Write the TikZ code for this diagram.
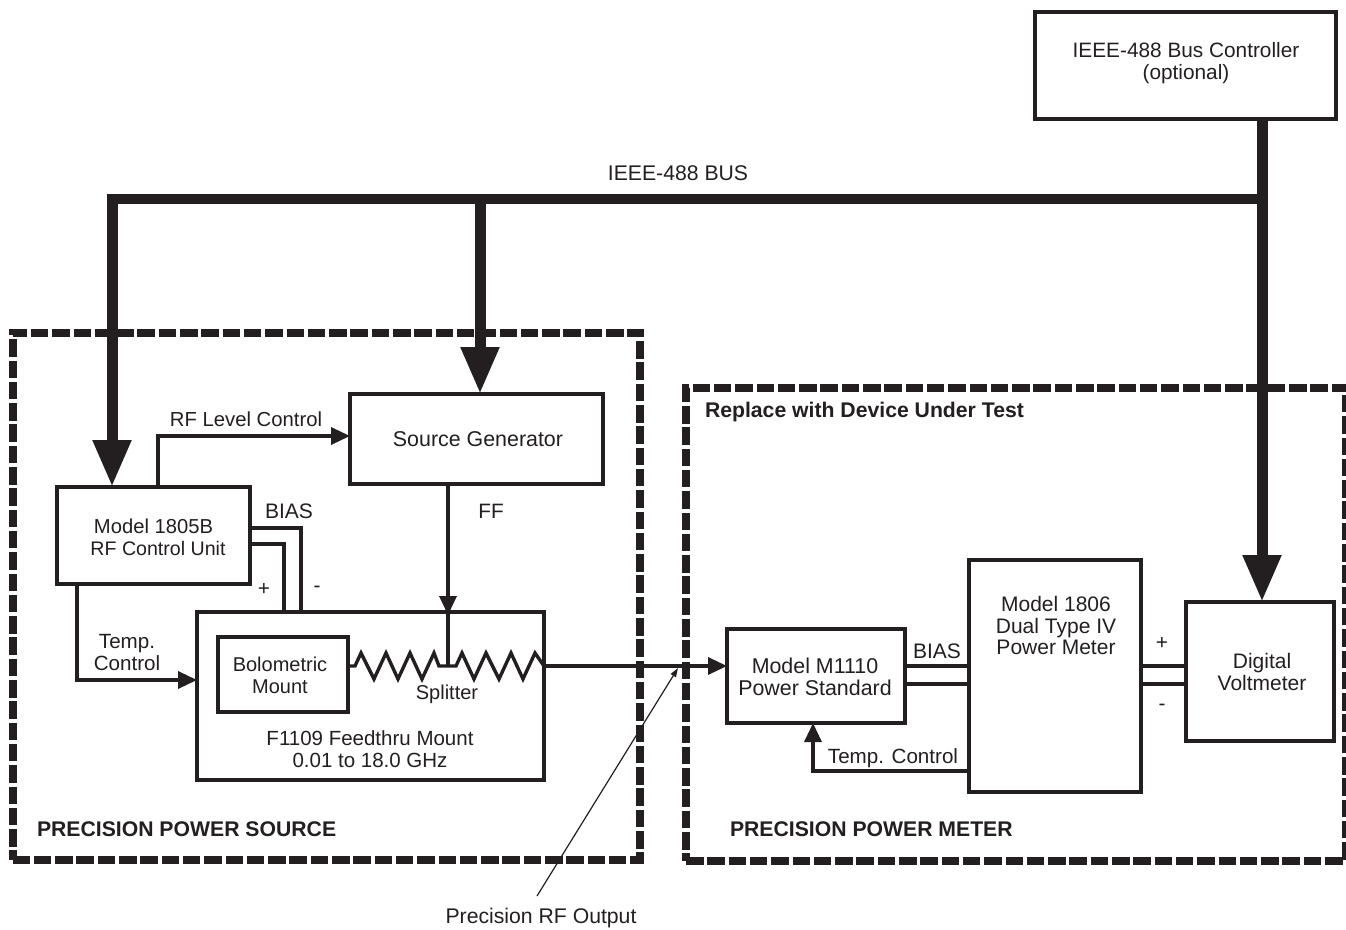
\documentclass[tikz,border=0pt]{standalone}
\usepackage{fontspec}
\setmainfont{Liberation Sans}
\usetikzlibrary{arrows.meta}
\tikzset{
  x=1pt,y=-1pt,
  box/.style={draw=ink,line width=3.4pt,inner sep=0pt,outer sep=0pt,fill=none},
  frame/.style={draw=ink,line width=8pt,inner sep=0pt,outer sep=0pt,dash pattern=on 17.5pt off 3.8pt},
  fs/.style={font=\fontsize{#1}{21.8}\selectfont},
  lbl/.style={inner sep=0pt,outer sep=0pt,align=center,text=ink,fs=20.8},
  head/.style={inner sep=0pt,outer sep=0pt,anchor=west,text=ink,font=\fontsize{21.2}{21.8}\selectfont\bfseries},
  wire/.style={draw=ink,line width=3.4pt,line cap=butt,line join=miter},
  sig/.style={wire,-{Triangle[length=19pt,width=17pt]}},
  bus/.style={draw=ink,line width=11pt,line cap=butt},
  busarrow/.style={bus,-{Triangle[length=47pt,width=36pt]}},
  leader/.style={draw=ink,line width=1.2pt,-{Triangle[length=9pt,width=6pt]}}
}
\definecolor{ink}{HTML}{231F20}
\begin{document}
\begin{tikzpicture}
\useasboundingbox (0,0) rectangle (1346,929);
% frames
\node[frame,minimum width=627.5pt,minimum height=527.5pt] (srcframe) at (326.25,596.25) {};
\node[frame,minimum width=659.5pt,minimum height=473pt] (mtrframe) at (1015.75,624) {};
% boxes
\node[box,minimum width=301pt,minimum height=107pt] (ctrl) at (1185.5,65.5) {};
\node[box,minimum width=253pt,minimum height=90pt] (srcgen) at (476.5,439) {};
\node[box,minimum width=193pt,minimum height=97pt] (rfunit) at (153.5,535.5) {};
\node[box,minimum width=347pt,minimum height=168pt] (feed) at (370.5,696) {};
\node[box,minimum width=130pt,minimum height=75pt] (bolo) at (283,674.5) {};
\node[box,minimum width=178pt,minimum height=94pt] (m1110) at (816,676) {};
\node[box,minimum width=172pt,minimum height=232pt] (m1806) at (1055,676) {};
\node[box,minimum width=148pt,minimum height=139pt] (dvm) at (1260,671.5) {};
% box texts
\node[lbl] (tctrl) at (1186,63.5) {IEEE-488 Bus Controller\\(optional)};
\node[lbl,fs=21.4] (tsrc) at (478,439) {Source Generator};
\node[lbl,fs=20.2] (trf1) at (153.5,526.5) {Model 1805B};
\node[lbl,fs=19.6] (trf2) at (158,548.5) {RF Control Unit};
\node[lbl,fs=20.5] (tfeed) at (370,749.5) {F1109 Feedthru Mount\\0.01 to 18.0 GHz};
\node[lbl,fs=20] (tbolo) at (280,675) {Bolometric\\Mount};
\node[lbl,fs=21.4] (tm1110) at (815,676.5) {Model M1110\\Power Standard};
\node[lbl,fs=21] (tm1806) at (1056,625.5) {Model 1806\\Dual Type IV\\Power Meter};
\node[lbl,fs=21] (tdvm) at (1262,672) {Digital\\Voltmeter};
% bus
\coordinate (bl) at (112,199);
\coordinate (bm) at (480,199);
\coordinate (br) at (1262,199);
\draw[bus] (ctrl.south -| br) -- (br);
\draw[bus,line width=10.5pt] ([xshift=5.5pt]br) -- ([xshift=-5.5pt]bl);
\draw[busarrow] ([yshift=-5.25pt]bl) -- (rfunit.north -| bl);
\draw[busarrow] (bm) -- (srcgen.north -| bm);
\draw[busarrow] (br) -- (dvm.north -| br);
\node[lbl,fs=21.2] (tbus) at (678,173.5) {IEEE-488 BUS};
% left-hand signals
\coordinate (rfl) at (158,436);
\draw[sig] (rfunit.north -| rfl) -- (rfl) -- (srcgen.west |- rfl);
\node[lbl,fs=20.3] (trfl) at (246,419.5) {RF Level Control};
\coordinate (biasminus) at (301,528);
\coordinate (biasplus) at (284,544);
\draw[wire] (rfunit.east |- biasminus) -- (biasminus) -- (feed.north -| biasminus);
\draw[wire] (rfunit.east |- biasplus) -- (biasplus) -- (feed.north -| biasplus);
\node[lbl,fs=21] (tbias) at (289,511.5) {BIAS};
\node[lbl] (tplus) at (264,589.5) {+};
\node[lbl] (tminus) at (317,589.5) {-};
\coordinate (ffx) at (448,666);
\draw[sig,shorten >=-3pt] (srcgen.south -| ffx) -- (feed.north -| ffx);
\draw[wire] (feed.north -| ffx) -- (ffx);
\node[lbl] (tff) at (491,511.5) {FF};
\coordinate (tc) at (77,680);
\draw[sig] (rfunit.south -| tc) -- (tc) -- (feed.west |- tc);
\node[lbl,fs=20.6] (ttc) at (127,652.5) {Temp.\\Control};
% splitter resistors
\draw[wire,line join=miter] (bolo.east |- ffx) -- (355,666) -- (361,653) -- (374,679) -- (386,653) -- (398,679) -- (410,653) -- (422,679) -- (434,653) -- (439,666)
  -- (456,666) -- (462,653) -- (474,679) -- (486,653) -- (499,679) -- (511,653) -- (523,679) -- (535,653) -- (feed.east |- ffx);
\node[lbl,fs=20] (tsplit) at (447,694) {Splitter};
% RF out
\coordinate (rfout) at (727,666);
\draw[sig] (feed.east |- rfout) -- (m1110.west |- rfout);
\coordinate (leadtail) at (537,896);
\coordinate (leadtip) at (678,668);
\draw[leader] (leadtail) -- (leadtip);
\node[lbl,fs=21.2] (tprec) at (541,918) {Precision RF Output};
% right-hand signals
\coordinate (bt) at (937,666);
\coordinate (bb) at (937,684);
\draw[wire] (m1110.east |- bt) -- (m1806.west |- bt);
\draw[wire] (m1110.east |- bb) -- (m1806.west |- bb);
\node[lbl,fs=21] (tbias2) at (937,651.5) {BIAS};
\draw[wire] (m1806.east |- bt) -- (dvm.west |- bt);
\draw[wire] (m1806.east |- bb) -- (dvm.west |- bb);
\node[lbl] (tp2) at (1162,643) {+};
\node[lbl] (tm2) at (1162,707) {-};
\coordinate (tcr) at (813,771);
\draw[sig] (m1806.west |- tcr) -- (tcr) -- (m1110.south -| tcr);
\node[lbl,fs=20.6] (ttc2) at (893,758) {Temp. Control};
% frame headings
\node[head] (hsrc) at (37,829.5) {PRECISION POWER SOURCE};
\node[head] (hmtr) at (730,829.5) {PRECISION POWER METER};
\node[head] (hdut) at (705,412) {Replace with Device Under Test};
\end{tikzpicture}
\end{document}
